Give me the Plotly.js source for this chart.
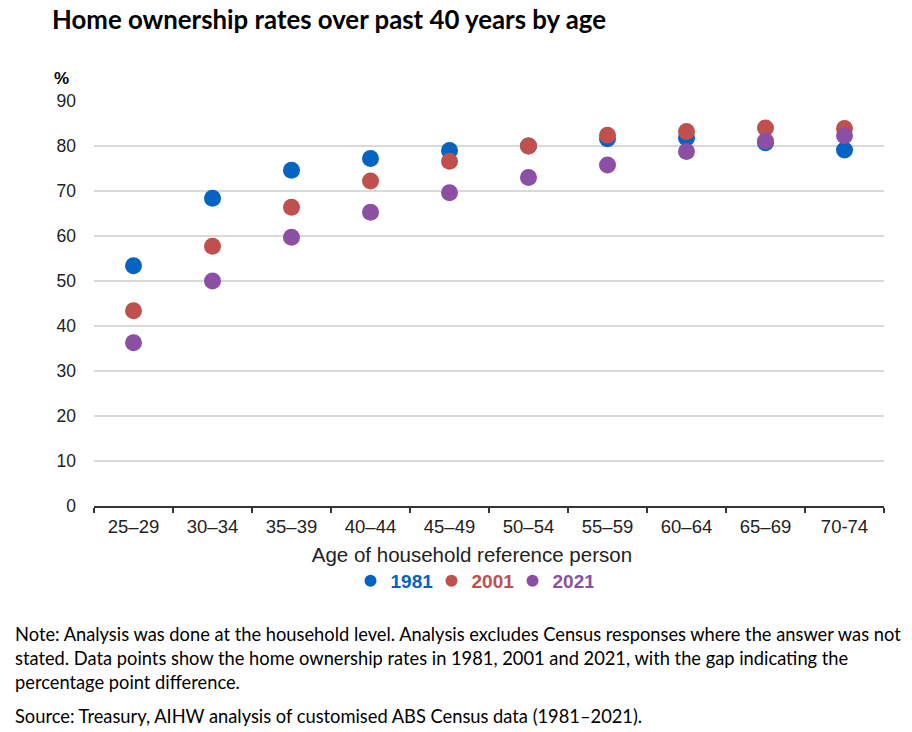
<!DOCTYPE html>
<html>
<head>
<meta charset="utf-8">
<script src="https://cdn.plot.ly/plotly-3.0.1.min.js"></script>
<style>html,body{margin:0;padding:0;background:#fff;}#chart{width:912px;height:732px;}</style>
</head>
<body>
<div id="chart"></div>
<script>
const ageGroups = ["25–29","30–34","35–39","40–44","45–49","50–54","55–59","60–64","65–69","70-74"];
const rates1981 = [53.4, 68.4, 74.6, 77.2, 79.0, 80.0, 81.6, 81.8, 80.7, 79.1];
const rates2001 = [43.4, 57.7, 66.4, 72.2, 76.6, 80.0, 82.4, 83.2, 84.0, 83.9];
const rates2021 = [36.3, 50.0, 59.7, 65.3, 69.6, 73.0, 75.8, 78.8, 81.1, 82.3];
const seriesNames = ["1981","2001","2021"];
const seriesColors = ["#0563C1","#C0504D","#8B4FA3"];
const yTicks = [0,10,20,30,40,50,60,70,80,90];

const L = 94, R = 28, T = 101, B = 226;
const PW = 912 - L - R, PH = 732 - T - B;
const px = x => (x - L) / PW;          // page x -> paper x
const py = y => (732 - B - y) / PH;    // page y -> paper y

const allSeries = [rates1981, rates2001, rates2021];
const traces = allSeries.map((vals, i) => ({
  type: 'scatter',
  mode: 'markers',
  x: ageGroups,
  y: vals,
  name: '<b><span style="color:' + seriesColors[i] + '">' + seriesNames[i] + '</span></b>',
  marker: {color: seriesColors[i], size: 17, line: {width: 0}},
  hoverinfo: 'x+y'
}));

const noteLines = [
  "Note: Analysis was done at the household level. Analysis excludes Census responses where the answer was not",
  "stated. Data points show the home ownership rates in 1981, 2001 and 2021, with the gap indicating the",
  "percentage point difference."
];
const sourceLine = "Source: Treasury, AIHW analysis of customised ABS Census data (1981–2021).";

const noteFont = {family: 'Lato, "Open Sans", sans-serif', size: 18.3, color: '#000'};
const annotations = [];
noteLines.forEach((t, i) => {
  annotations.push({xref:'paper', yref:'paper', x: px(13), y: py(634 + 24*i), xanchor:'left', yanchor:'middle', text: t, showarrow:false, font: noteFont, align:'left'});
});
annotations.push({xref:'paper', yref:'paper', x: px(13), y: py(716), xanchor:'left', yanchor:'middle', text: sourceLine, showarrow:false, font: noteFont, align:'left'});
annotations.push({xref:'paper', yref:'paper', x: px(52), y: py(78), xanchor:'left', yanchor:'middle', text: '<b>%</b>', showarrow:false, font:{family:'"Liberation Sans", Arial, sans-serif', size:17, color:'#000'}});

const layout = {
  width: 912, height: 732,
  paper_bgcolor: '#fff', plot_bgcolor: '#fff',
  margin: {l: L, r: R, t: T, b: B},
  title: {text: '<b>Home ownership rates over past 40 years by age</b>', x: 52/912, xanchor: 'left', y: 1-20/732, yanchor: 'middle',
          font: {family: 'Lato, "Open Sans", sans-serif', size: 25.8, color: '#000'}},
  font: {family: '"Liberation Sans", Arial, sans-serif', size: 16, color: '#222'},
  xaxis: {
    type: 'category',
    range: [-0.5, 9.5],
    showgrid: false,
    showline: true, linecolor: '#333', linewidth: 1.5,
    ticks: 'outside', tickson: 'boundaries', ticklen: 5, tickcolor: '#333', tickwidth: 1.5,
    tickfont: {size: 18.5, color: '#222'},
    ticklabelstandoff: 3,
    title: {text: 'Age of household reference person' + '&nbsp;'.repeat(6), font: {size: 20.5, color: '#222'}, standoff: 12},
    fixedrange: true
  },
  yaxis: {
    range: [0, 90],
    tickvals: yTicks,
    ticktext: yTicks.map(String),
    showgrid: true, gridcolor: '#d9d9d9', gridwidth: 1.5,
    zeroline: false, showline: false,
    ticks: '', ticklabelstandoff: 17,
    tickfont: {size: 17.5, color: '#222'},
    fixedrange: true
  },
  showlegend: true,
  legend: {orientation: 'h', x: px(472), xanchor: 'center', y: py(581), yanchor: 'middle',
           itemsizing: 'constant', font: {size: 19, family: '"Liberation Sans", Arial, sans-serif'},
           itemwidth: 30, tracegroupgap: 0, entrywidth: 36, entrywidthmode: 'pixels'},
  annotations: annotations
};

Plotly.newPlot('chart', traces, layout, {displayModeBar: false, staticPlot: true});
</script>
</body>
</html>
